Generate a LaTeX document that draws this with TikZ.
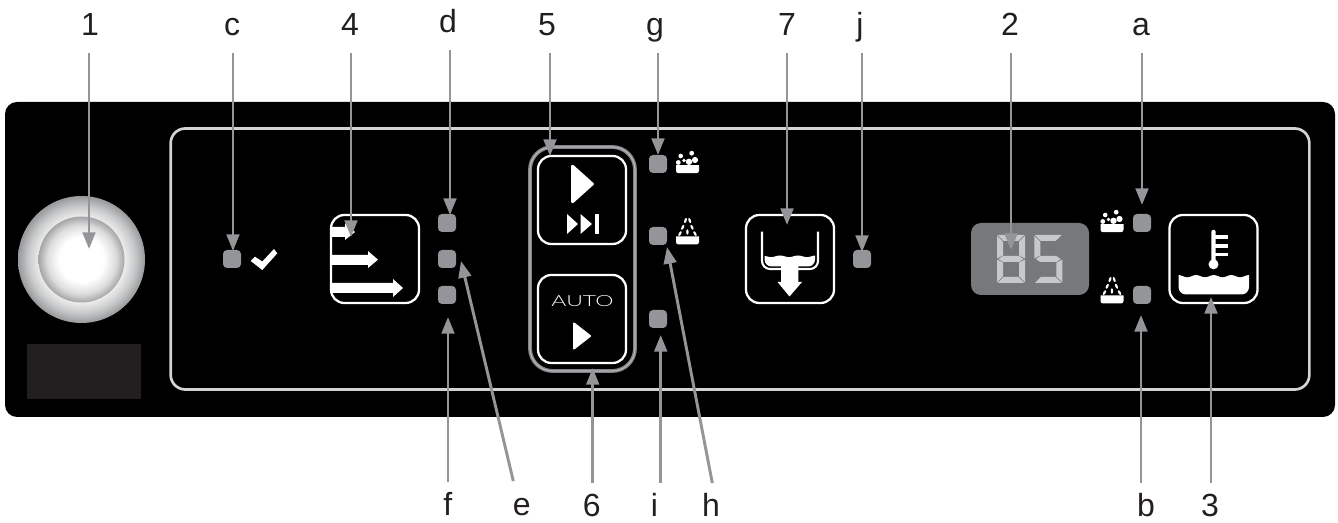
\documentclass[tikz,border=0pt]{standalone}
\usepackage{fontspec}
\setmainfont{Liberation Sans}
\newfontfamily\autofont[UprightFont=* Light]{Lato}
\usetikzlibrary{arrows.meta}
\definecolor{ptrgray}{HTML}{939598}
\definecolor{framegray}{HTML}{D1D3D4}
\definecolor{dispgray}{HTML}{77787B}
\definecolor{seggray}{HTML}{C7C8CA}
\definecolor{plategray}{HTML}{231F20}
\definecolor{ringdark}{HTML}{808285}
\definecolor{ringlight}{HTML}{B4B5B7}
\definecolor{labelink}{HTML}{231F20}
\definecolor{knobA}{HTML}{EBEBEB}
\definecolor{knobB}{HTML}{C8C9CA}
\definecolor{knobC}{HTML}{98999B}
\definecolor{knobD}{HTML}{DCDCDC}
\definecolor{knobE}{HTML}{A4A5A7}
\pgfdeclareradialshading{knobouter}{\pgfpoint{0bp}{0bp}}{color(0bp)=(white);color(17bp)=(knobA);color(21bp)=(knobB);color(25bp)=(knobC);color(50bp)=(knobC)}
\pgfdeclareradialshading{knobinner}{\pgfpoint{0bp}{0bp}}{color(0bp)=(white);color(13bp)=(white);color(20bp)=(knobD);color(25bp)=(knobE);color(50bp)=(knobE)}
\tikzset{
  panelbox/.style={fill=black,rounded corners=9pt,inner sep=0,minimum width=997.5pt,minimum height=236.25pt},
  framebox/.style={draw=framegray,line width=2pt,rounded corners=11pt,inner sep=0,minimum width=854pt,minimum height=195.75pt},
  ringbox/.style={draw=ringdark,line width=1pt,double=ringlight,double distance=.9pt,rounded corners=17pt,inner sep=0,minimum width=78.75pt,minimum height=168pt},
  btn/.style={draw=white,line width=1.7pt,rounded corners=10pt,inner sep=0,minimum size=66pt},
  led/.style={fill=ptrgray,rounded corners=3pt,inner sep=0,minimum size=13.5pt},
  lab/.style={inner sep=0,anchor=base,text=labelink,font=\fontsize{24}{24}\selectfont},
  toplab/.style={lab,text depth=13.1pt},
  botlab/.style={lab,text height=24.75pt},
  conn/.style={draw=ptrgray,line width=2.2pt,-{Triangle[length=12.5pt,width=9.5pt]}},
  ico/.style={fill=white,draw=none},
}
\newcommand{\segA}{\fill[seggray] (.6,0)--(27.4,0)--(21.4,6)--(6.6,6)--cycle;}
\newcommand{\segB}{\fill[seggray] (28,.6)--(28,23.4)--(22,20.4)--(22,6.6)--cycle;}
\newcommand{\segC}{\fill[seggray] (28,24.6)--(28,47.4)--(22,41.4)--(22,27.6)--cycle;}
\newcommand{\segD}{\fill[seggray] (.6,48)--(27.4,48)--(21.4,42)--(6.6,42)--cycle;}
\newcommand{\segE}{\fill[seggray] (0,24.6)--(0,47.4)--(6,41.4)--(6,27.6)--cycle;}
\newcommand{\segF}{\fill[seggray] (0,.6)--(0,23.4)--(6,20.4)--(6,6.6)--cycle;}
\newcommand{\segG}{\fill[seggray] (1.5,24)--(6,21)--(22,21)--(26.5,24)--(22,27)--(6,27)--cycle;}
\newcommand{\bowl}[1]{\fill[ico] (676,#1)--(699,#1)--(699,#1+5.5) arc[start angle=0,end angle=90,radius=2.5]--(678.5,#1+8) arc[start angle=90,end angle=180,radius=2.5]--cycle;}
\newcommand{\foamicon}{%
  \bowl{165.2}
  \fill[ico] (691.7,153.2) circle (2.4);
  \fill[ico] (680.7,156) circle (2.3);
  \fill[ico] (695,160) circle (3.1);
  \fill[ico] (689,161.8) circle (3.2);
  \fill[ico] (684,160.5) circle (1.9);
  \fill[ico] (678.3,162.5) circle (2.4);
}
\newcommand{\sprayicon}{%
  \bowl{236.5}
  \foreach \dx/\dy/\da in {685.5/220.5/-20,689.7/220.5/20,682.7/227.3/-25,692/227.3/25,687.4/232/0,680/233.6/-30,695/233.6/30}{
    \fill[ico,rotate around={\da:(\dx,\dy)}] (\dx,\dy) ellipse (1.2 and 2.7);
  }
}
\begin{document}
\begin{tikzpicture}[x=0.75pt,y=-0.75pt]
\useasboundingbox (0,0) rectangle (1338,523);
% panel
\node[panelbox] (panel) at (670,259.5) {};
\node[framebox] (frame) at (740,259) {};
% knob and plate
\shade[shading=knobouter] (81.5,259.5) circle (63.5);
\shade[shading=knobinner] (81.5,259.5) circle (43);
\fill[plategray] (27,344) rectangle (141,399);
% LEDs
\node[led] (ledc) at (232,259) {};
\node[led] (ledd) at (447,223) {};
\node[led] (lede) at (447,259) {};
\node[led] (ledf) at (447,295) {};
\node[led] (ledg) at (658,164) {};
\node[led] (ledh) at (658,236) {};
\node[led] (ledi) at (658,319) {};
\node[led] (ledj) at (862,259) {};
\node[led] (leda) at (1142,223) {};
\node[led] (ledb) at (1142,295) {};
% check
\fill[ico] (250.7,261)--(255,256.7)--(262.3,261.5)--(274,249)--(277.3,253.3)--(262.3,270)--cycle;
% buttons
\node[ringbox] (ring) at (582.5,259) {};
\node[btn] (btn4) at (375,259) {};
\node[btn] (btn5) at (582,200) {};
\node[btn] (btn6) at (582,319) {};
\node[btn] (btn7) at (790,259) {};
\node[btn] (btn3) at (1213.5,259) {};
% icon 4
\fill[ico] (331,227)--(345,227)--(345,223.5)--(355,232)--(345,240)--(345,237)--(331,237)--cycle;
\fill[ico] (331,255)--(368,255)--(368,251)--(378,259.7)--(368,268)--(368,265)--(331,265)--cycle;
\fill[ico] (331,283)--(393,283)--(393,279)--(403,288)--(393,297)--(393,293)--(331,293)--cycle;
% icon 5
\filldraw[ico,draw=white,line width=2pt,line join=round] (572.5,166)--(592.5,184)--(572.5,202)--cycle;
\fill[ico] (567,214)--(578,224)--(567,234)--cycle;
\fill[ico] (580.5,214)--(592,224)--(580.5,234)--cycle;
\fill[ico] (594.5,214) rectangle (598.5,234);
% icon 6
\node[inner sep=0,text=white,xscale=1.5,font=\autofont\fontsize{11.5}{11.5}\selectfont] (autotxt) at (582.5,301) {AUTO};
\filldraw[ico,draw=white,line width=1.5pt,line join=round] (574,323.5)--(590,336)--(574,348.5)--cycle;
% icon 7
\draw[white,line width=1.6pt] (762,231.7)--(762,261) arc[start angle=180,end angle=90,radius=8]--(781,269);
\draw[white,line width=1.6pt] (818,231.7)--(818,261) arc[start angle=0,end angle=90,radius=8]--(798,269);
\fill[ico] plot[domain=764.5:815,samples=40] (\x,{256.3-0.8*cos((\x-780)/18*360)}) -- (815,259.5) arc[start angle=0,end angle=90,radius=7] -- (798.3,266.5) -- (798.3,282) -- (802,282) -- (789.5,296.5) -- (777.5,282) -- (781,282) -- (781,266.5) -- (771.5,266.5) arc[start angle=90,end angle=180,radius=7] -- cycle;
% display
\node[fill=dispgray,rounded corners=7.5pt,inner sep=0,minimum width=88.5pt,minimum height=54pt] (disp) at (1030,259) {};
\begin{scope}[shift={(997,235)}] \segA\segB\segC\segD\segE\segF\segG \end{scope}
\begin{scope}[shift={(1034.3,235)}] \segA\segF\segG\segC\segD \end{scope}
% foam and spray icons
\foamicon
\sprayicon
\begin{scope}[shift={(424.5,59)}] \foamicon \sprayicon \end{scope}
% icon 3
\fill[ico] (1211.3,232) arc[start angle=180,end angle=360,radius=2.2]--(1215.7,262)--(1211.3,262)--cycle;
\fill[ico] (1213.5,264.3) circle (5);
\fill[ico] (1215,235.5) rectangle (1228,239);
\fill[ico] (1215,244.3) rectangle (1228,247.8);
\fill[ico] (1215,253) rectangle (1228,256.5);
\fill[ico] plot[domain=1178.5:1249,samples=60] (\x,{276.2-1.1*cos((\x-1178.5)/17.6*360)}) -- (1249,287) arc[start angle=0,end angle=90,radius=7.5] -- (1186,294.5) arc[start angle=90,end angle=180,radius=7.5] -- cycle;
% labels
\node[toplab] (lab1) at (90,35.5) {1};
\node[toplab] (labc) at (232,35.5) {c};
\node[toplab] (lab4) at (350,35.5) {4};
\node[toplab] (labd) at (448,32.5) {d};
\node[toplab] (lab5) at (547,35.5) {5};
\node[toplab] (labg) at (655,35.5) {g};
\node[toplab] (lab7) at (787,35.5) {7};
\node[toplab] (labj) at (860,35.5) {j};
\node[toplab] (lab2) at (1010,35.5) {2};
\node[toplab] (laba) at (1141,35.5) {a};
\node[botlab] (labf) at (447.7,515) {f};
\node[botlab] (labe) at (521.7,515) {e};
\node[botlab] (lab6) at (591.7,516) {6};
\node[botlab] (labi) at (654.3,516) {i};
\node[botlab] (labh) at (711,516) {h};
\node[botlab] (labb) at (1146,516) {b};
\node[botlab] (lab3) at (1210,516) {3};
% connector ends
\coordinate (t1) at (89,249);
\coordinate (tc) at (233,251);
\coordinate (t4) at (351,237);
\coordinate (td) at (450,215);
\coordinate (t5) at (550,156);
\coordinate (tg) at (658,155);
\coordinate (t7) at (787,225);
\coordinate (tj) at (862,252);
\coordinate (t2) at (1011,250);
\coordinate (ta) at (1142,205);
\coordinate (tf) at (448,317);
\coordinate (te) at (461,261);
\coordinate (t6) at (592.7,368);
\coordinate (ti) at (660.7,335);
\coordinate (th) at (667,247);
\coordinate (tb) at (1141,315);
\coordinate (t3) at (1211,297);
\coordinate (se) at (513.3,481);
\coordinate (sh) at (712.3,483);
% connectors
\foreach \n in {1,c,4,d,5,g,7,j,2,a}{\draw[conn] (t\n |- lab\n.south) -- (t\n);}
\foreach \n in {f,6,i,b,3}{\draw[conn] (t\n |- lab\n.north) -- (t\n);}
\draw[conn] (se) -- (te);
\draw[conn] (sh) -- (th);
\end{tikzpicture}
\end{document}
